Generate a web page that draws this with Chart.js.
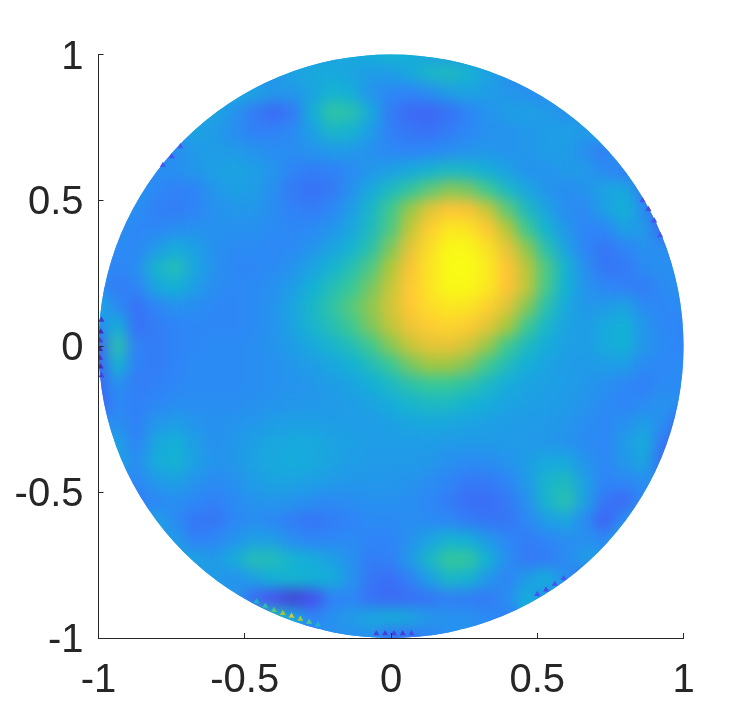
<!DOCTYPE html>
<html>
<head>
<meta charset="utf-8">
<style>
  html, body { margin: 0; padding: 0; background: #fff; }
  #wrap { width: 756px; height: 718px; }
</style>
<script src="https://cdn.jsdelivr.net/npm/chart.js@4"></script>
</head>
<body>
<div id="wrap"><canvas id="js-disc" width="756" height="718"></canvas></div>
<script>
var _ = null;

var tickValues = [-1, -0.5, 0, 0.5, 1];
var tickLabels = ['-1', '-0.5', '0', '0.5', '1'];

// sample positions of the field
var gridX = [-1, -0.933, -0.867, -0.8, -0.733, -0.667, -0.6, -0.533, -0.467, -0.4, -0.333, -0.267, -0.2, -0.133, -0.067, 0,
  0.067, 0.133, 0.2, 0.267, 0.333, 0.4, 0.467, 0.533, 0.6, 0.667, 0.733, 0.8, 0.867, 0.933, 1];
var gridY = [1, 0.933, 0.867, 0.8, 0.733, 0.667, 0.6, 0.533, 0.467, 0.4, 0.333, 0.267, 0.2, 0.133, 0.067, 0,
  -0.067, -0.133, -0.2, -0.267, -0.333, -0.4, -0.467, -0.533, -0.6, -0.667, -0.733, -0.8, -0.867, -0.933, -1];

// field values in percent of the colour range, one row per gridY
var fieldRows = [
  [_,_,_,_,_,_,_,30,30,32,34,36,38,40,42,44,42,38,36,34,32,30,28,26,_,_,_,_,_,_,_],
  [_,_,_,_,_,_,_,_,32,34,38,40,40,38,36,36,40,46,48,44,38,32,28,_,_,_,_,_,_,_,_],
  [_,_,_,_,_,_,40,40,38,34,34,38,44,42,33,29,28,31,36,38,36,34,32,31,33,_,_,_,_,_,_],
  [_,_,_,_,_,40,38,33,26,21,25,42,54,52,40,26,21,20,23,28,33,36,37,35,32,32,_,_,_,_,_],
  [_,_,_,32,34,38,35,31,27,27,30,37,46,44,36,27,24,23,26,29,32,33,34,36,37,35,40,46,_,_,_],
  [_,_,30,27,31,35,36,35,33,31,31,33,35,35,32,29,28,29,31,33,34,33,34,36,36,31,26,40,40,_,_],
  [_,30,31,31,32,34,37,38,37,33,28,26,27,30,34,37,40,44,47,46,42,37,33,33,35,35,30,27,21,20,_],
  [_,30,33,29,27,28,34,37,36,31,25,23,25,32,40,48,55,62,67,65,58,47,39,33,31,33,38,40,26,16,_],
  [_,33,31,27,26,28,32,34,34,31,27,26,29,36,46,58,69,80,86,85,76,62,48,38,31,30,37,43,31,15,_],
  [28,31,29,29,31,32,32,32,32,30,29,30,33,39,48,60,75,88,95,94,87,73,58,44,34,28,29,37,35,21,18],
  [30,30,29,35,41,37,32,30,30,29,30,33,38,44,53,66,81,92,99,99,93,82,68,52,38,28,24,28,32,31,26],
  [30,28,31,45,50,39,32,29,29,30,33,38,44,51,60,72,85,94,100,100,96,86,74,60,44,31,24,25,30,32,30],
  [30,26,28,39,43,36,31,29,30,32,36,43,50,57,65,76,87,94,99,99,95,86,75,59,43,33,29,27,26,30,32],
  [40,30,23,28,32,31,29,29,30,33,39,46,54,61,68,78,87,92,95,94,89,80,67,52,40,34,35,38,30,29,30],
  [30,42,23,26,28,29,29,29,30,33,38,45,51,58,66,75,83,88,90,88,81,71,58,46,38,36,40,43,34,29,28],
  [20,52,27,26,28,29,30,30,31,33,36,40,45,50,58,67,76,81,82,78,69,58,48,41,37,36,40,43,34,30,28],
  [20,44,27,26,28,30,30,30,31,32,34,36,39,43,49,57,65,70,70,66,58,49,42,38,36,35,36,36,30,29,30],
  [20,32,26,27,29,30,30,30,31,32,33,34,36,38,42,47,53,57,57,53,47,41,38,37,36,34,32,29,27,30,30],
  [20,29,27,29,31,31,31,31,32,33,34,34,35,36,38,41,45,47,47,44,41,38,37,36,35,33,30,28,30,33,30],
  [30,31,27,34,36,33,32,33,34,36,37,37,36,36,36,37,39,40,39,38,37,36,35,35,34,31,29,32,36,31,20],
  [40,37,28,39,43,36,32,34,37,39,40,40,38,37,36,36,36,36,35,35,35,35,35,34,33,30,29,35,41,25,15],
  [40,37,31,41,44,37,33,34,38,40,41,40,38,36,35,35,35,34,32,30,31,33,36,40,40,33,29,34,39,21,15],
  [_,31,29,35,37,33,30,32,36,38,38,37,35,34,34,34,33,31,28,25,25,28,35,45,48,37,28,29,31,30,_],
  [_,30,26,29,31,29,27,30,33,34,33,31,30,31,32,32,31,29,26,22,22,25,32,45,52,37,24,21,30,30,_],
  [_,_,36,37,30,24,24,29,31,29,26,24,26,28,30,30,31,30,29,26,24,24,29,36,39,30,19,30,45,_,_],
  [_,_,_,38,35,27,29,33,37,36,31,28,29,30,28,28,32,38,44,42,35,29,26,28,31,32,29,45,_,_,_],
  [_,_,_,_,40,37,35,41,50,49,44,41,37,32,26,27,35,46,56,55,43,31,25,26,30,36,36,_,_,_,_],
  [_,_,_,_,_,36,35,32,37,43,44,43,42,33,24,22,27,37,46,44,34,28,36,42,31,21,_,_,_,_,_],
  [_,_,_,_,_,_,35,35,21,14,9,13,27,29,23,21,22,24,27,26,25,31,42,31,_,_,_,_,_,_,_],
  [_,_,_,_,_,_,_,_,50,50,40,28,32,35,39,41,39,34,32,32,30,27,_,_,_,_,_,_,_,_,_],
  [_,_,_,_,_,_,_,_,_,_,_,_,32,32,32,24,24,28,32,_,_,_,_,_,_,_,_,_,_,_,_]
];

// single triangles of the mesh that stand out along the rim
var rimX = [-0.99, -0.992, -0.995, -0.995, -0.995, -0.993, -0.99,
  -0.46, -0.43, -0.40, -0.37, -0.34, -0.31, -0.28, -0.25,
  -0.05, -0.02, 0.01, 0.04, 0.07,
  0.50, 0.53, 0.56, 0.59,
  0.86, 0.88, 0.90, 0.92,
  -0.72, -0.75, -0.78];
var rimY = [0.09, 0.05, 0.02, -0.01, -0.04, -0.07, -0.1,
  -0.875, -0.89, -0.905, -0.915, -0.925, -0.935, -0.945, -0.955,
  -0.985, -0.985, -0.985, -0.985, -0.985,
  -0.85, -0.835, -0.815, -0.795,
  0.50, 0.47, 0.43, 0.38,
  0.685, 0.65, 0.62];
var rimValues = [6, 3, 8, 2, 6, 4, 10,
  45, 52, 60, 70, 78, 70, 60, 48,
  10, 8, 10, 8, 12,
  14, 12, 14, 16,
  14, 12, 14, 16,
  16, 14, 16];

var parula = [
  [62, 38, 168], [72, 82, 244], [46, 135, 247], [18, 177, 214],
  [55, 200, 151], [171, 199, 57], [254, 195, 56], [249, 251, 21]
];

function fieldColor(v) {
  var t = Math.max(0, Math.min(0.9999, v / 100)) * (parula.length - 1);
  var k = Math.floor(t), f = t - k;
  var a = parula[k], b = parula[k + 1];
  return 'rgb(' + Math.round(a[0] + (b[0] - a[0]) * f) + ',' +
    Math.round(a[1] + (b[1] - a[1]) * f) + ',' +
    Math.round(a[2] + (b[2] - a[2]) * f) + ')';
}

var fieldPoints = [];
var fieldColors = [];
fieldRows.forEach(function (row, j) {
  row.forEach(function (v, i) {
    if (v === null) return;
    fieldPoints.push({ x: gridX[i], y: gridY[j] });
    fieldColors.push(fieldColor(v));
  });
});
var rimPoints = rimX.map(function (x, i) { return { x: x, y: rimY[i] }; });

// smooth the sampled cells and cut them to the unit disc
var discBlur = {
  id: 'discBlur',
  afterDatasetDraw: function (chart, args) {
    if (args.index !== 0) return;
    var c = chart.canvas, ctx = chart.ctx;
    var off = document.createElement('canvas');
    off.width = c.width;
    off.height = c.height;
    off.getContext('2d').drawImage(c, 0, 0);
    var sx = chart.scales.x, sy = chart.scales.y;
    var cx = sx.getPixelForValue(0), cy = sy.getPixelForValue(0);
    var rx = sx.getPixelForValue(1) - cx, ry = cy - sy.getPixelForValue(1);
    ctx.save();
    ctx.setTransform(1, 0, 0, 1, 0, 0);
    ctx.clearRect(0, 0, c.width, c.height);
    ctx.beginPath();
    ctx.ellipse(cx, cy, rx, ry, 0, 0, Math.PI * 2);
    ctx.clip();
    ctx.drawImage(off, 0, 0);
    ctx.filter = 'blur(7px)';
    ctx.drawImage(off, 0, 0);
    ctx.restore();
  }
};

var tickFont = { family: '"Liberation Sans", Arial, sans-serif', size: 40 };

new Chart(document.getElementById('js-disc'), {
  type: 'scatter',
  plugins: [discBlur],
  data: {
    datasets: [{
      data: fieldPoints,
      order: 2,
      clip: false,
      pointStyle: 'rect',
      pointRadius: 15,
      pointBorderWidth: 0,
      pointBackgroundColor: fieldColors,
      pointHoverRadius: 15
    }, {
      data: rimPoints,
      order: 1,
      pointStyle: 'triangle',
      pointRadius: 3.5,
      pointBorderWidth: 0,
      pointBackgroundColor: rimValues.map(fieldColor)
    }]
  },
  options: {
    responsive: false,
    animation: false,
    layout: { padding: { left: 0, top: 54.5, right: 72.5, bottom: 0 } },
    plugins: { legend: { display: false }, tooltip: { enabled: false } },
    scales: {
      x: {
        type: 'linear', min: -1, max: 1,
        afterBuildTicks: function (s) { s.ticks = tickValues.map(function (v) { return { value: v }; }); },
        afterFit: function (s) { s.height = 80; },
        grid: { z: 1, drawOnChartArea: false, tickLength: -5, tickColor: '#262626', tickWidth: 1 },
        border: { z: 1, color: '#262626', width: 1 },
        ticks: {
          z: 1, color: '#262626', font: tickFont, maxRotation: 0, autoSkip: false, padding: 24,
          callback: function (v) { return tickLabels[tickValues.indexOf(v)]; }
        }
      },
      y: {
        type: 'linear', min: -1, max: 1,
        afterBuildTicks: function (s) { s.ticks = tickValues.map(function (v) { return { value: v }; }); },
        afterFit: function (s) { s.width = 98.5; },
        grid: { z: 1, drawOnChartArea: false, tickLength: -5, tickColor: '#262626', tickWidth: 1 },
        border: { z: 1, color: '#262626', width: 1 },
        ticks: {
          z: 1, color: '#262626', font: tickFont, autoSkip: false, padding: 20, labelOffset: 3,
          callback: function (v) { return tickLabels[tickValues.indexOf(v)]; }
        }
      }
    }
  }
});
</script>
</body>
</html>
